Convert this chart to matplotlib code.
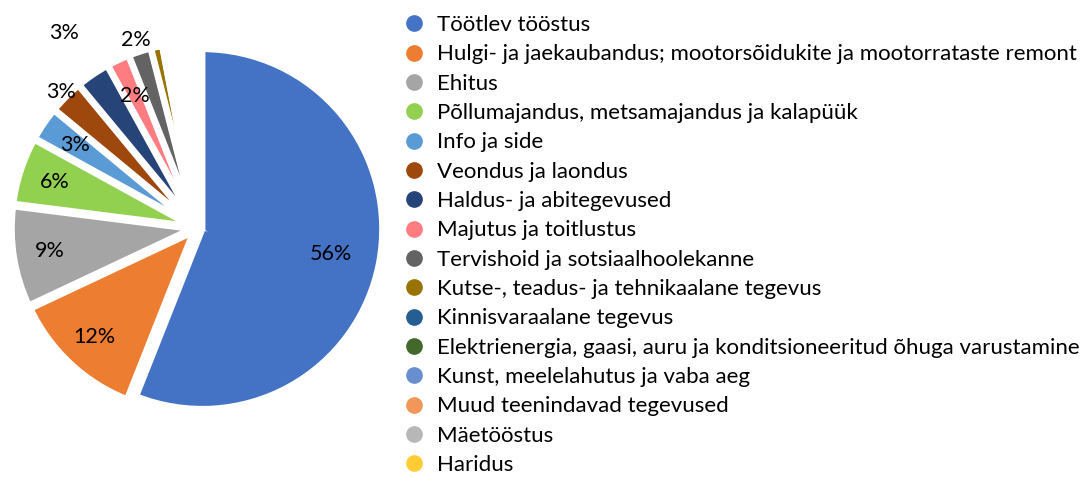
import numpy as np
import matplotlib.pyplot as plt
from matplotlib.lines import Line2D

# sectors (legend order = slice order, clockwise from 12 o'clock)
sectors = ['Töötlev tööstus',
           'Hulgi- ja jaekaubandus; mootorsõidukite ja mootorrataste remont',
           'Ehitus',
           'Põllumajandus, metsamajandus ja kalapüük',
           'Info ja side',
           'Veondus ja laondus',
           'Haldus- ja abitegevused',
           'Majutus ja toitlustus',
           'Tervishoid ja sotsiaalhoolekanne',
           'Kutse-, teadus- ja tehnikaalane tegevus',
           'Kinnisvaraalane tegevus',
           'Elektrienergia, gaasi, auru ja konditsioneeritud õhuga varustamine',
           'Kunst, meelelahutus ja vaba aeg',
           'Muud teenindavad tegevused',
           'Mäetööstus',
           'Haridus']
shares = [56, 12, 9, 6, 3, 3, 3, 2, 2, 1, 0.5, 0.5, 0.5, 0.5, 0.5, 0.5]
colors = ['#4472C4', '#ED7D31', '#A5A5A5', '#92D050', '#5B9BD5', '#9E480E',
          '#264478', '#FF7C80', '#636363', '#997300', '#255E91', '#43682B',
          '#698ED0', '#F1975A', '#B7B7B7', '#FFCD33']
# radius (as fraction of pie radius) where each % label sits, None = no label
label_r = [0.76, 0.83, 0.83, 0.83, 0.82, 1.07, 1.31, 0.81, 1.1,
           None, None, None, None, None, None, None]

plt.rcParams['font.family'] = ['Lato', 'DejaVu Sans']

W, H = 1082, 478
fig = plt.figure(figsize=(W / 100, H / 100), dpi=100)
R = 180
cx, cy = 197, 478 - 228
half = 1.3 * R
ax = fig.add_axes([(cx - half) / W, (cy - half) / H, 2 * half / W, 2 * half / H])

wedges, _ = ax.pie(shares, colors=colors, startangle=90, counterclock=False,
                   explode=[0.03] * len(shares), radius=1,
                   wedgeprops=dict(edgecolor='white', linewidth=4.5))
ax.set_xlim(-1.3, 1.3)
ax.set_ylim(-1.3, 1.3)
ax.set_aspect('equal')
ax.axis('off')

for w, v, r in zip(wedges, shares, label_r):
    if r is None:
        continue
    a = np.deg2rad((w.theta1 + w.theta2) / 2)
    ax.text(r * np.cos(a), r * np.sin(a), f'{v:.0f}%', ha='center', va='center',
            fontsize=15.5, color='black')

handles = [Line2D([], [], marker='o', linestyle='', markersize=11,
                  markerfacecolor=c, markeredgecolor=c) for c in colors]
fig.legend(handles, sectors, loc='upper left', bbox_to_anchor=(403 / W, 1 - 15 / H),
           frameon=False, fontsize=16, handlelength=1.0, handletextpad=0.55,
           labelspacing=0.42, borderaxespad=0, borderpad=0)

fig.savefig('out.png', dpi=100)
